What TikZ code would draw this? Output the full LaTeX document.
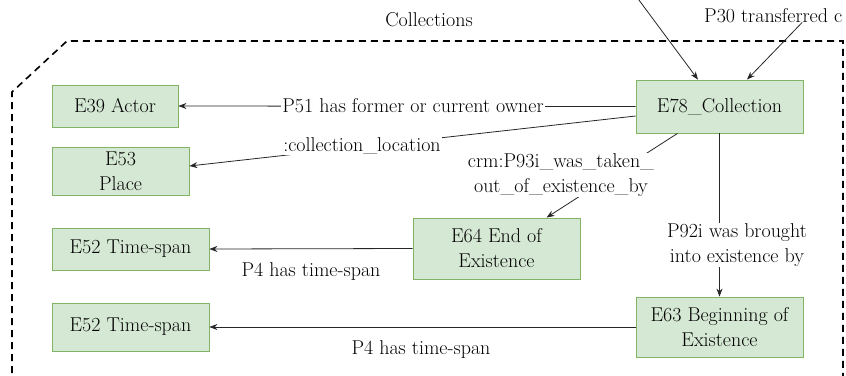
\documentclass[tikz,border=0pt]{standalone}
\usetikzlibrary{arrows.meta,calc}
\definecolor{boxfill}{HTML}{D5E8D4}
\definecolor{boxline}{HTML}{82B366}
\begin{document}
\begin{tikzpicture}[x=1pt,y=-1pt,
  ent/.style={draw=boxline, fill=boxfill, line width=0.8pt, inner sep=0pt, align=center, font=\rmfamily\fontsize{20}{25}\selectfont},
  lbl/.style={fill=white, inner sep=1pt, align=center, font=\rmfamily\fontsize{20}{25}\selectfont},
  txt/.style={inner sep=1pt, align=center, font=\rmfamily\fontsize{20}{25}\selectfont},
  arr/.style={draw=black!85, line width=0.8pt, -{Stealth[length=8pt,width=6pt]}},
  frame/.style={line width=1.6pt, dash pattern=on 7pt off 5pt}]
\useasboundingbox (0,0) rectangle (846,375);
\clip (0,0) rectangle (846,375);
% frame
\draw[frame] (12,385) -- (12,92) -- (67,41) -- (843,41) -- (843,385);
\node[txt] (coll) at (429,20) {Collections};
\node[txt, anchor=west] (p30) at (703,16) {P30 transferred c};
% entities
\node[ent, minimum width=126pt, minimum height=42pt] (e39) at (115,106) {E39 Actor};
\node[ent, minimum width=137pt, minimum height=48pt] (e53) at (120.5,171) {E53\\Place};
\node[ent, minimum width=157pt, minimum height=42pt] (e52a) at (130.5,249) {E52 Time-span};
\node[ent, minimum width=157pt, minimum height=48pt] (e52b) at (130.5,327) {E52 Time-span};
\node[ent, minimum width=167pt, minimum height=61pt] (e64) at (496.5,248.5) {E64 End of\\Existence};
\node[ent, minimum width=167pt, minimum height=53pt] (e78) at (719.5,106.5) {E78\_Collection};
\node[ent, minimum width=167pt, minimum height=60pt] (e63) at (719.5,327) {E63 Beginning of\\Existence};
% incoming connectors
\coordinate (in1) at (630,-12);
\draw[arr] (in1) -- ([xshift=-21.5pt]e78.north);
\draw[arr] ([xshift=29pt,yshift=2pt]p30.south) -- ([xshift=27.5pt]e78.north);
% connectors
\draw[arr] (e78.west) -- (e39.east);
\draw[arr] ([yshift=-9.5pt]e78.west) -- ([yshift=5pt]e53.east);
\draw[arr] ([xshift=-42pt]e78.south) -- ([xshift=50pt]e64.north);
\draw[arr] (e78.south) -- (e63.north);
\draw[arr] (e64.west) -- (e52a.east);
\draw[arr] (e63.west) -- (e52b.east);
% labels
\node[lbl] (l51) at (413,106) {P51 has former or current owner};
\node[lbl] (lloc) at (362,146) {:collection\_location};
\node[lbl] (l93) at (561,175) {crm:P93i\_was\_taken\_\\out\_of\_existence\_by};
\node[lbl] (l92) at (737,245) {P92i was brought\\into existence by};
\node[txt] (l4a) at (311,272) {P4 has time-span};
\node[txt] (l4b) at (421,350) {P4 has time-span};
\end{tikzpicture}
\end{document}
